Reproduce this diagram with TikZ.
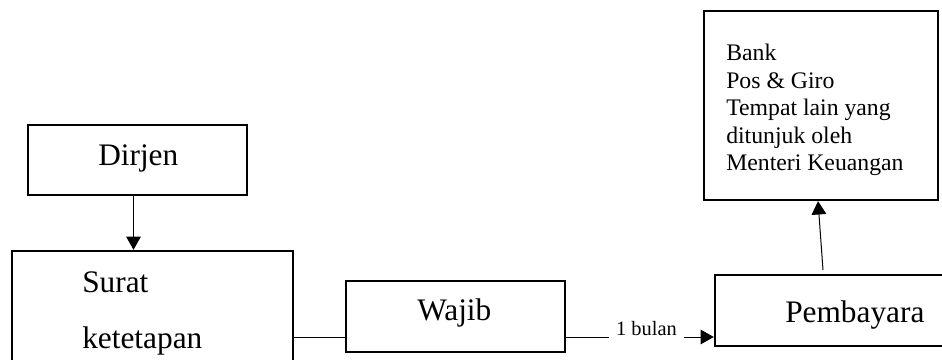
\documentclass[tikz,border=0pt]{standalone}
\usepackage{fontspec}
\setmainfont{Liberation Serif}
\usetikzlibrary{fit,arrows.meta}
\begin{document}
\begin{tikzpicture}[x=0.75pt,y=-0.75pt,
  box/.style={draw,line width=1.75pt,inner sep=0pt},
  conn/.style={line width=0.75pt},
  arr/.style={line width=0.75pt,-{Triangle[length=10pt,width=11pt]}},
  big/.style={font=\fontsize{23.5}{28}\selectfont,inner sep=0pt},
  txt/.style={inner sep=0pt}]
\path[use as bounding box,clip] (0,0) rectangle (942,360);
\fill[white] (0,0) rectangle (942,360);
% boxes
\node[box,fit={(28,125) (247,195)}] (dirjen) {};
\node[box,fit={(12,251) (293,390)}] (surat) {};
\node[box,fit={(346,281) (565,352)}] (wajib) {};
\node[box,fit={(715,275) (970,346)}] (pemb) {};
\node[box,fit={(704,11) (938,200)}] (bank) {};
% texts
\node[big,anchor=base west] (tdirjen) at (98,165) {Dirjen};
\node[big,anchor=north west,align=left,font=\fontsize{23.5}{42}\selectfont] (tsurat) at (82,271) {Surat\\ketetapan};
\node[big,anchor=base west] (twajib) at (417,320) {Wajib};
\node[big,anchor=base west] (tpemb) at (785,322) {Pembayara};
\node[txt,anchor=north west,align=left,font=\fontsize{17.8}{20.6}\selectfont] (tbank) at (726,44)
  {Bank\\Pos \& Giro\\Tempat lain yang\\ditunjuk oleh\\Menteri Keuangan};
\node[anchor=base,inner xsep=5.5pt,inner ysep=0pt,font=\fontsize{15.3}{18}\selectfont] (lbl) at (646.5,335) {1 bulan};
% connectors
\coordinate (yline) at (0,337);
\draw[arr] ([xshift=-3pt]dirjen.south) -- ([xshift=-3pt]dirjen.south |- surat.north);
\draw[conn] (surat.east |- yline) -- (wajib.west |- yline);
\draw[conn] (wajib.east |- yline) -- (lbl.west |- yline);
\draw[arr] (lbl.east |- yline) -- (pemb.west |- yline);
\coordinate (pstart) at (823,270);
\draw[arr] (pstart) -- ([xshift=-2.25pt]bank.south);
\end{tikzpicture}
\end{document}
